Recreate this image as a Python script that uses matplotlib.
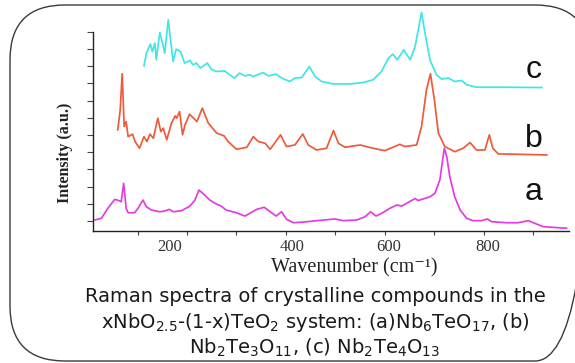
import numpy as np
import matplotlib
matplotlib.use("Agg")
import matplotlib.pyplot as plt
from matplotlib.patches import FancyBboxPatch

# Raman spectra (x in cm-1, y in arbitrary units, already offset)
wn_c = [113, 118, 126, 130, 135, 138, 145, 152, 155, 162, 172, 178, 187, 195, 206, 212, 219,
        227, 241, 249, 259, 276, 286, 296, 306, 317, 327, 333, 354, 364, 380, 391, 408, 418,
        432, 447, 459, 472, 496, 529, 556, 576, 593, 607, 616, 625, 638, 651, 661, 674, 681,
        691, 704, 715, 728, 741, 755, 765, 785, 832, 917]
int_c = [9.02, 9.76, 10.29, 9.85, 10.34, 9.37, 10.96, 10.15, 9.76, 11.70, 9.27, 9.99, 9.85,
         9.18, 9.33, 9.08, 9.18, 8.89, 9.18, 8.83, 8.69, 8.73, 8.50, 8.31, 8.60, 8.44, 8.50,
         8.40, 8.63, 8.44, 8.54, 8.31, 8.11, 8.31, 8.34, 8.98, 8.40, 8.11, 7.97, 7.97, 8.05,
         8.21, 8.69, 9.47, 9.70, 9.37, 9.95, 9.37, 10.15, 12.13, 10.93, 9.37, 8.50, 8.25, 8.31,
         8.11, 8.17, 7.92, 7.78, 7.78, 7.76]

wn_b = [60, 65, 69, 73, 77, 81, 90, 95, 104, 113, 119, 125, 132, 141, 147, 152, 159, 169,
        176, 179, 185, 191, 196, 205, 213, 220, 231, 243, 260, 275, 283, 300, 321, 334, 344,
        358, 368, 389, 401, 418, 434, 445, 462, 482, 496, 506, 519, 550, 576, 600, 630, 640,
        664, 674, 684, 692, 700, 708, 721, 741, 758, 772, 785, 802, 811, 818, 829, 869, 927]
int_b = [5.30, 6.46, 8.56, 5.49, 5.78, 4.91, 5.05, 4.62, 4.23, 4.91, 4.62, 5.05, 4.81, 5.98,
         5.20, 5.40, 4.72, 5.72, 6.11, 5.98, 6.36, 5.01, 5.59, 6.21, 5.98, 5.78, 6.56, 5.69,
         5.11, 4.95, 4.62, 4.17, 4.29, 4.91, 4.62, 4.52, 4.17, 5.01, 4.33, 4.42, 5.06, 4.42,
         4.13, 4.23, 5.26, 4.52, 4.29, 4.42, 4.23, 4.09, 4.46, 4.33, 4.42, 5.49, 7.63, 8.56,
         7.04, 5.11, 4.33, 4.03, 4.23, 4.56, 4.13, 4.13, 5.01, 4.23, 3.90, 3.88, 3.84]

wn_a = [14, 27, 40, 54, 63, 67, 72, 77, 81, 94, 101, 111, 118, 128, 145, 155, 164, 172, 189,
        206, 216, 224, 232, 246, 259, 269, 279, 300, 317, 327, 341, 356, 368, 380, 391, 401,
        415, 435, 462, 499, 516, 543, 560, 571, 582, 596, 610, 624, 634, 644, 661, 667, 691,
        701, 711, 720, 725, 731, 741, 752, 765, 778, 795, 807, 816, 846, 869, 890, 900, 920,
        967]
int_a = [0.06, 0.16, 0.74, 1.26, 1.18, 1.12, 2.19, 0.74, 0.48, 0.48, 0.74, 1.22, 0.83, 0.64,
         0.54, 0.58, 0.68, 0.54, 0.60, 0.87, 1.22, 1.80, 1.61, 1.22, 0.99, 0.87, 0.64, 0.48,
         0.29, 0.45, 0.68, 0.80, 0.54, 0.29, 0.54, 0.10, -0.10, -0.06, 0.02, 0.12, 0.02, 0.06,
         0.25, 0.54, 0.29, 0.49, 0.74, 0.93, 0.87, 1.03, 1.31, 1.19, 1.41, 1.61, 2.39, 4.23,
         3.74, 2.58, 1.41, 0.64, 0.16, 0.02, 0.02, 0.12, -0.04, -0.10, -0.10, 0.02, -0.10,
         -0.33, -0.42]

x_ticks = [100, 200, 300, 400, 500, 600, 700, 800, 900]
x_labels = ["200", "400", "600", "800"]
x_label_pos = [164, 412, 608, 808]
y_ticks = list(range(12))

caption = ["Raman spectra of crystalline compounds in the",
           r"xNbO$_{2.5}$-(1-x)TeO$_2$ system: (a)Nb$_6$TeO$_{17}$, (b)",
           r"Nb$_2$Te$_3$O$_{11}$, (c) Nb$_2$Te$_4$O$_{13}$"]

W, H = 575, 363
fig = plt.figure(figsize=(W / 100, H / 100), dpi=100)

# background axes in pixel units for the rounded frame and captions
bg = fig.add_axes([0, 0, 1, 1])
bg.set_xlim(0, W)
bg.set_ylim(H, 0)
bg.axis("off")
frame = FancyBboxPatch((10, 5), 580, 356, boxstyle="round,pad=0,rounding_size=55",
                       fc="none", ec="#3a3a3a", lw=1.0)
bg.add_patch(frame)

ax = fig.add_axes([93 / W, (H - 231) / H, (569 - 93) / W, (231 - 6) / H])
ax.patch.set_alpha(0)
ax.plot(wn_c, int_c, color="#40e6e6", lw=1.25)
ax.plot(wn_b, int_b, color="#ee5b3b", lw=1.25)
ax.plot(wn_a, int_a, color="#e23de2", lw=1.25)

ax.set_xlim(10, 972)
ax.set_ylim(-0.58, 12.5)
for s in ["top", "right"]:
    ax.spines[s].set_visible(False)
ax.spines["left"].set_bounds(-0.58, 11)
for s in ["left", "bottom"]:
    ax.spines[s].set_color("#222222")
    ax.spines[s].set_linewidth(1.0)

ax.set_yticks(y_ticks)
ax.set_yticklabels([])
ax.tick_params(axis="y", direction="out", length=4, width=0.8, color="#444444")
ax.set_xticks(x_ticks)
ax.set_xticklabels([])
ax.tick_params(axis="x", which="major", direction="out", length=3, width=0.8, color="#444444")
ax.set_xticks(x_label_pos, minor=True)
ax.set_xticklabels(x_labels, minor=True, fontfamily="Liberation Serif", fontsize=12,
                   color="#333333")
ax.tick_params(axis="x", which="minor", length=0, pad=5.5)

ax.set_xlabel("Wavenumber (cm⁻¹)", family=["Liberation Serif", "DejaVu Serif"],
              fontsize=14.5, color="#222222", va="center")
ax.xaxis.set_label_coords((354 - 93) / 476, (231 - 268) / 225)
ax.set_ylabel("Intensity (a.u.)", family="Liberation Serif", fontweight="bold",
              fontsize=11.5, color="#222222", va="center")
ax.yaxis.set_label_coords((65 - 93) / 476, (231 - 153) / 225)

for lab, yb in zip(["c", "b", "a"], [78, 147, 200]):
    bg.text(534, yb, lab, family="Liberation Sans", fontsize=23, ha="center",
            va="baseline", color="#111111")

for line, yc in zip(caption, [296, 322, 348]):
    bg.text(315, yc, line, family="DejaVu Sans", fontsize=14, ha="center", va="center",
            color="#1a1a1a")

fig.savefig("out.png", dpi=100)
